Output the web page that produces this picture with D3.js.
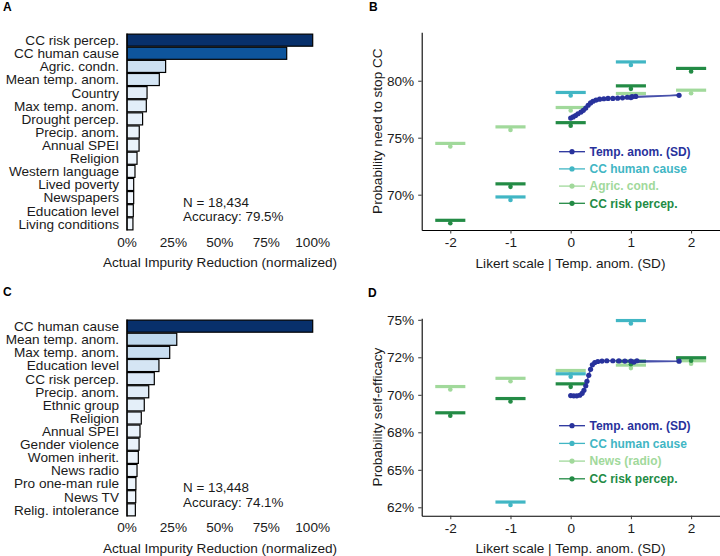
<!DOCTYPE html>
<html><head><meta charset="utf-8">
<script src="https://cdn.jsdelivr.net/npm/d3@7"></script>
<style>
body{margin:0;background:#fff;}
svg{font-family:"Liberation Sans",Arial,sans-serif;}
</style></head>
<body><svg id="chart" width="720" height="556"></svg>
<script>
// ---------- DATA ----------
const barLabelsA = ["CC risk percep.","CC human cause","Agric. condn.","Mean temp. anom.","Country","Max temp. anom.","Drought percep.","Precip. anom.","Annual SPEI","Religion","Western language","Lived poverty","Newspapers","Education level","Living conditions"];
const barValuesA = [100, 86.0, 20.8, 17.4, 10.8, 10.4, 8.4, 6.6, 6.5, 5.4, 4.3, 3.6, 3.6, 3.4, 3.2];
const barLabelsC = ["CC human cause","Mean temp. anom.","Max temp. anom.","Education level","CC risk percep.","Precip. anom.","Ethnic group","Religion","Annual SPEI","Gender violence","Women inherit.","News radio","Pro one-man rule","News TV","Relig. intolerance"];
const barValuesC = [100, 26.8, 23.0, 17.2, 14.7, 11.7, 9.3, 7.7, 7.0, 6.5, 6.1, 5.4, 4.8, 4.7, 4.5];
const barTicks = [0, 25, 50, 75, 100];
const barTickLabels = ["0%","25%","50%","75%","100%"];
const annotA = ["N = 18,434", "Accuracy: 79.5%"];
const annotC = ["N = 13,448", "Accuracy: 74.1%"];

const likertX = [-2, -1, 0, 1, 2];
const humanX = [-1, 0, 1];
const xTicks = [-2, -1, 0, 1, 2];
const xTickLabels = ["-2","-1","0","1","2"];

// Panel B
const agricB = [74.5, 75.95, 77.65, 78.88, 79.17];
const humanB = [69.8, 78.97, 81.65];
const riskB  = [67.75, 70.95, 76.32, 79.55, 81.08];
const tempXB = [0.00,0.04,0.08,0.12,0.17,0.21,0.25,0.29,0.33,0.37,0.42,0.48,0.55,0.62,0.70,0.78,0.86,0.94,1.02,1.08,1.80,1.00];
const tempYB = [76.72,76.82,76.95,77.1,77.25,77.4,77.6,77.85,78.05,78.2,78.3,78.38,78.42,78.45,78.45,78.47,78.5,78.55,78.6,78.62,78.72,78.52];
const yTicksB = [70, 75, 80];
const yTickLabelsB = ["70%","75%","80%"];
const legendB = ["Temp. anom. (SD)","CC human cause","Agric. cond.","CC risk percep."];

// Panel D
const newsD  = [70.55, 71.1, 71.62, 71.98, 72.27];
const humanD = [62.85, 71.4, 74.95];
const riskD  = [68.8, 69.75, 70.73, 72.24, 72.47];
const tempXD = [0.00,0.05,0.10,0.15,0.19,0.22,0.25,0.27,0.30,0.33,0.36,0.40,0.45,0.52,0.60,0.70,0.80,0.90,1.00,1.10,1.80,1.05];
const tempYD = [69.95,69.93,69.93,69.97,70.1,70.3,70.6,70.9,71.3,71.7,72.0,72.15,72.22,72.25,72.27,72.27,72.26,72.25,72.25,72.27,72.24,72.18];
const yTicksD = [62.5, 65, 67.5, 70, 72.5, 75];
const yTickLabelsD = ["62%","65%","68%","70%","72%","75%"];
const legendD = ["Temp. anom. (SD)","CC human cause","News (radio)","CC risk percep."];

// ---------- STYLE ----------
const C_TEMP = "#28329c", C_HUMAN = "#41b6c4", C_LIGHT = "#a1d99b", C_RISK = "#238b45";
const TXT = "#1a1a1a";
const svg = d3.select("#chart");

// panel letters
[["A",3,11],["B",369,11],["C",3,296],["D",368,297]].forEach(([t,x,y])=>{
  svg.append("text").attr("x",x).attr("y",y).attr("font-size",12).attr("font-weight","bold").attr("fill","#000").text(t);
});

// ---------- BAR PANELS ----------
function drawBars(labels, values, annot, top, bottom, tickY, titleY, annY){
  const x = d3.scaleLinear().domain([0,100]).range([127, 312.7]);
  const y = d3.scaleBand().domain(labels).range([top, bottom]).paddingInner(0.08).paddingOuter(0.04);
  const color = d3.scaleSequential(d3.interpolateBlues).domain([0,100]);
  const g = svg.append("g");
  g.selectAll("rect").data(labels).join("rect")
    .attr("x", x(0)).attr("y", d=>y(d))
    .attr("width", (d,i)=>x(values[i])-x(0)).attr("height", y.bandwidth())
    .attr("fill", (d,i)=>color(values[i])).attr("stroke","#000").attr("stroke-width",1.2);
  g.append("line").attr("x1",x(0)).attr("x2",x(0)).attr("y1",top).attr("y2",bottom).attr("stroke","#000").attr("stroke-width",1.2);
  g.selectAll(".lab").data(labels).join("text")
    .attr("x",119).attr("y",d=>y(d)+y.bandwidth()/2).attr("dy","0.36em")
    .attr("text-anchor","end").attr("font-size",13.6).attr("fill",TXT).text(d=>d);
  g.selectAll(".tk").data(barTicks).join("text")
    .attr("x",d=>x(d)).attr("y",tickY).attr("text-anchor","middle").attr("font-size",13.6).attr("fill",TXT)
    .text((d,i)=>barTickLabels[i]);
  g.append("text").attr("x",220).attr("y",titleY).attr("text-anchor","middle").attr("font-size",13.6).attr("fill",TXT)
    .text("Actual Impurity Reduction (normalized)");
  annot.forEach((t,i)=>{
    g.append("text").attr("x",183).attr("y",annY + i*14.5).attr("font-size",13.4).attr("fill",TXT).text(t);
  });
}
drawBars(barLabelsA, barValuesA, annotA, 33.6, 230.4, 247, 266.5, 206.5);
drawBars(barLabelsC, barValuesC, annotC, 319.6, 516.4, 531.5, 553, 492);

// ---------- SCATTER PANELS ----------
function drawScatter(cfg){
  const x = d3.scaleLinear().domain([-2.475, 2.475]).range([421.7, 719.7]);
  const y = d3.scaleLinear().domain(cfg.yDomain).range([cfg.bottom, cfg.top]);
  const g = svg.append("g");
  // axes
  const xa = g.append("g").attr("transform",`translate(0,${cfg.bottom})`)
    .call(d3.axisBottom(x).tickValues(xTicks).tickFormat((d,i)=>xTickLabels[i]).tickSize(3.5).tickSizeOuter(0).tickPadding(4));
  const ya = g.append("g").attr("transform",`translate(${x.range()[0]},0)`)
    .call(d3.axisLeft(y).tickValues(cfg.yTicks).tickFormat((d,i)=>cfg.yTickLabels[i]).tickSize(3.5).tickSizeOuter(0).tickPadding(4));
  [xa,ya].forEach(a=>{
    a.select(".domain").attr("stroke","#000").attr("stroke-width",1.1);
    a.selectAll(".tick line").attr("stroke","#333").attr("stroke-width",1);
    a.selectAll(".tick text").attr("font-size",13.6).attr("fill",TXT).attr("font-family","Liberation Sans, Arial, sans-serif");
  });
  g.append("text").attr("x",570.5).attr("y",cfg.bottom+37.5).attr("text-anchor","middle").attr("font-size",13.6).attr("fill",TXT)
    .text("Likert scale | Temp. anom. (SD)");
  g.append("text").attr("transform",`translate(381.5,${(cfg.top+cfg.bottom)/2}) rotate(-90)`)
    .attr("text-anchor","middle").attr("font-size",13.6).attr("fill",TXT).text(cfg.yTitle);

  // categorical series
  const series = [
    {xs: likertX, vs: cfg.light, c: C_LIGHT},
    {xs: humanX, vs: cfg.human, c: C_HUMAN},
    {xs: likertX, vs: cfg.risk, c: C_RISK}
  ];
  series.forEach(s=>{
    s.xs.forEach((xv,i)=>{
      g.append("line").attr("x1",x(xv-0.25)).attr("x2",x(xv+0.25)).attr("y1",y(s.vs[i])).attr("y2",y(s.vs[i]))
        .attr("stroke",s.c).attr("stroke-width",3.2);
      g.append("circle").attr("cx",x(xv)).attr("cy",y(s.vs[i])+3).attr("r",2.3).attr("fill",s.c);
    });
  });
  // temperature anomaly line
  const pts = cfg.tx.map((v,i)=>[v, cfg.ty[i]]);
  g.append("path").datum(pts).attr("d", d3.line().x(d=>x(d[0])).y(d=>y(d[1])))
    .attr("fill","none").attr("stroke",C_TEMP).attr("stroke-width",1.4).attr("stroke-opacity",0.85);
  g.selectAll(".tp").data(pts).join("circle").attr("cx",d=>x(d[0])).attr("cy",d=>y(d[1])).attr("r",2.6).attr("fill",C_TEMP);

  // legend
  const lc = [C_TEMP, C_HUMAN, C_LIGHT, C_RISK];
  cfg.legend.forEach((t,i)=>{
    const ly = cfg.legY + i*cfg.legStep;
    g.append("line").attr("x1",559).attr("x2",585).attr("y1",ly).attr("y2",ly).attr("stroke",lc[i]).attr("stroke-width",1.3);
    g.append("circle").attr("cx",572).attr("cy",ly).attr("r",2.6).attr("fill",lc[i]);
    g.append("text").attr("x",589.5).attr("y",ly).attr("dy","0.36em").attr("font-size",12).attr("font-weight","bold").attr("fill",lc[i]).text(t);
  });
}
drawScatter({top:32.3, bottom:230, yDomain:[66.9, 84.25], yTicks:yTicksB, yTickLabels:yTickLabelsB,
  yTitle:"Probability need to stop CC", light:agricB, human:humanB, risk:riskB, tx:tempXB, ty:tempYB,
  legend:legendB, legY:151.7, legStep:17.2});
drawScatter({top:318.3, bottom:515.7, yDomain:[61.94, 75.1], yTicks:yTicksD, yTickLabels:yTickLabelsD,
  yTitle:"Probability self-efficacy", light:newsD, human:humanD, risk:riskD, tx:tempXD, ty:tempYD,
  legend:legendD, legY:425.7, legStep:17.7});
</script></body></html>
